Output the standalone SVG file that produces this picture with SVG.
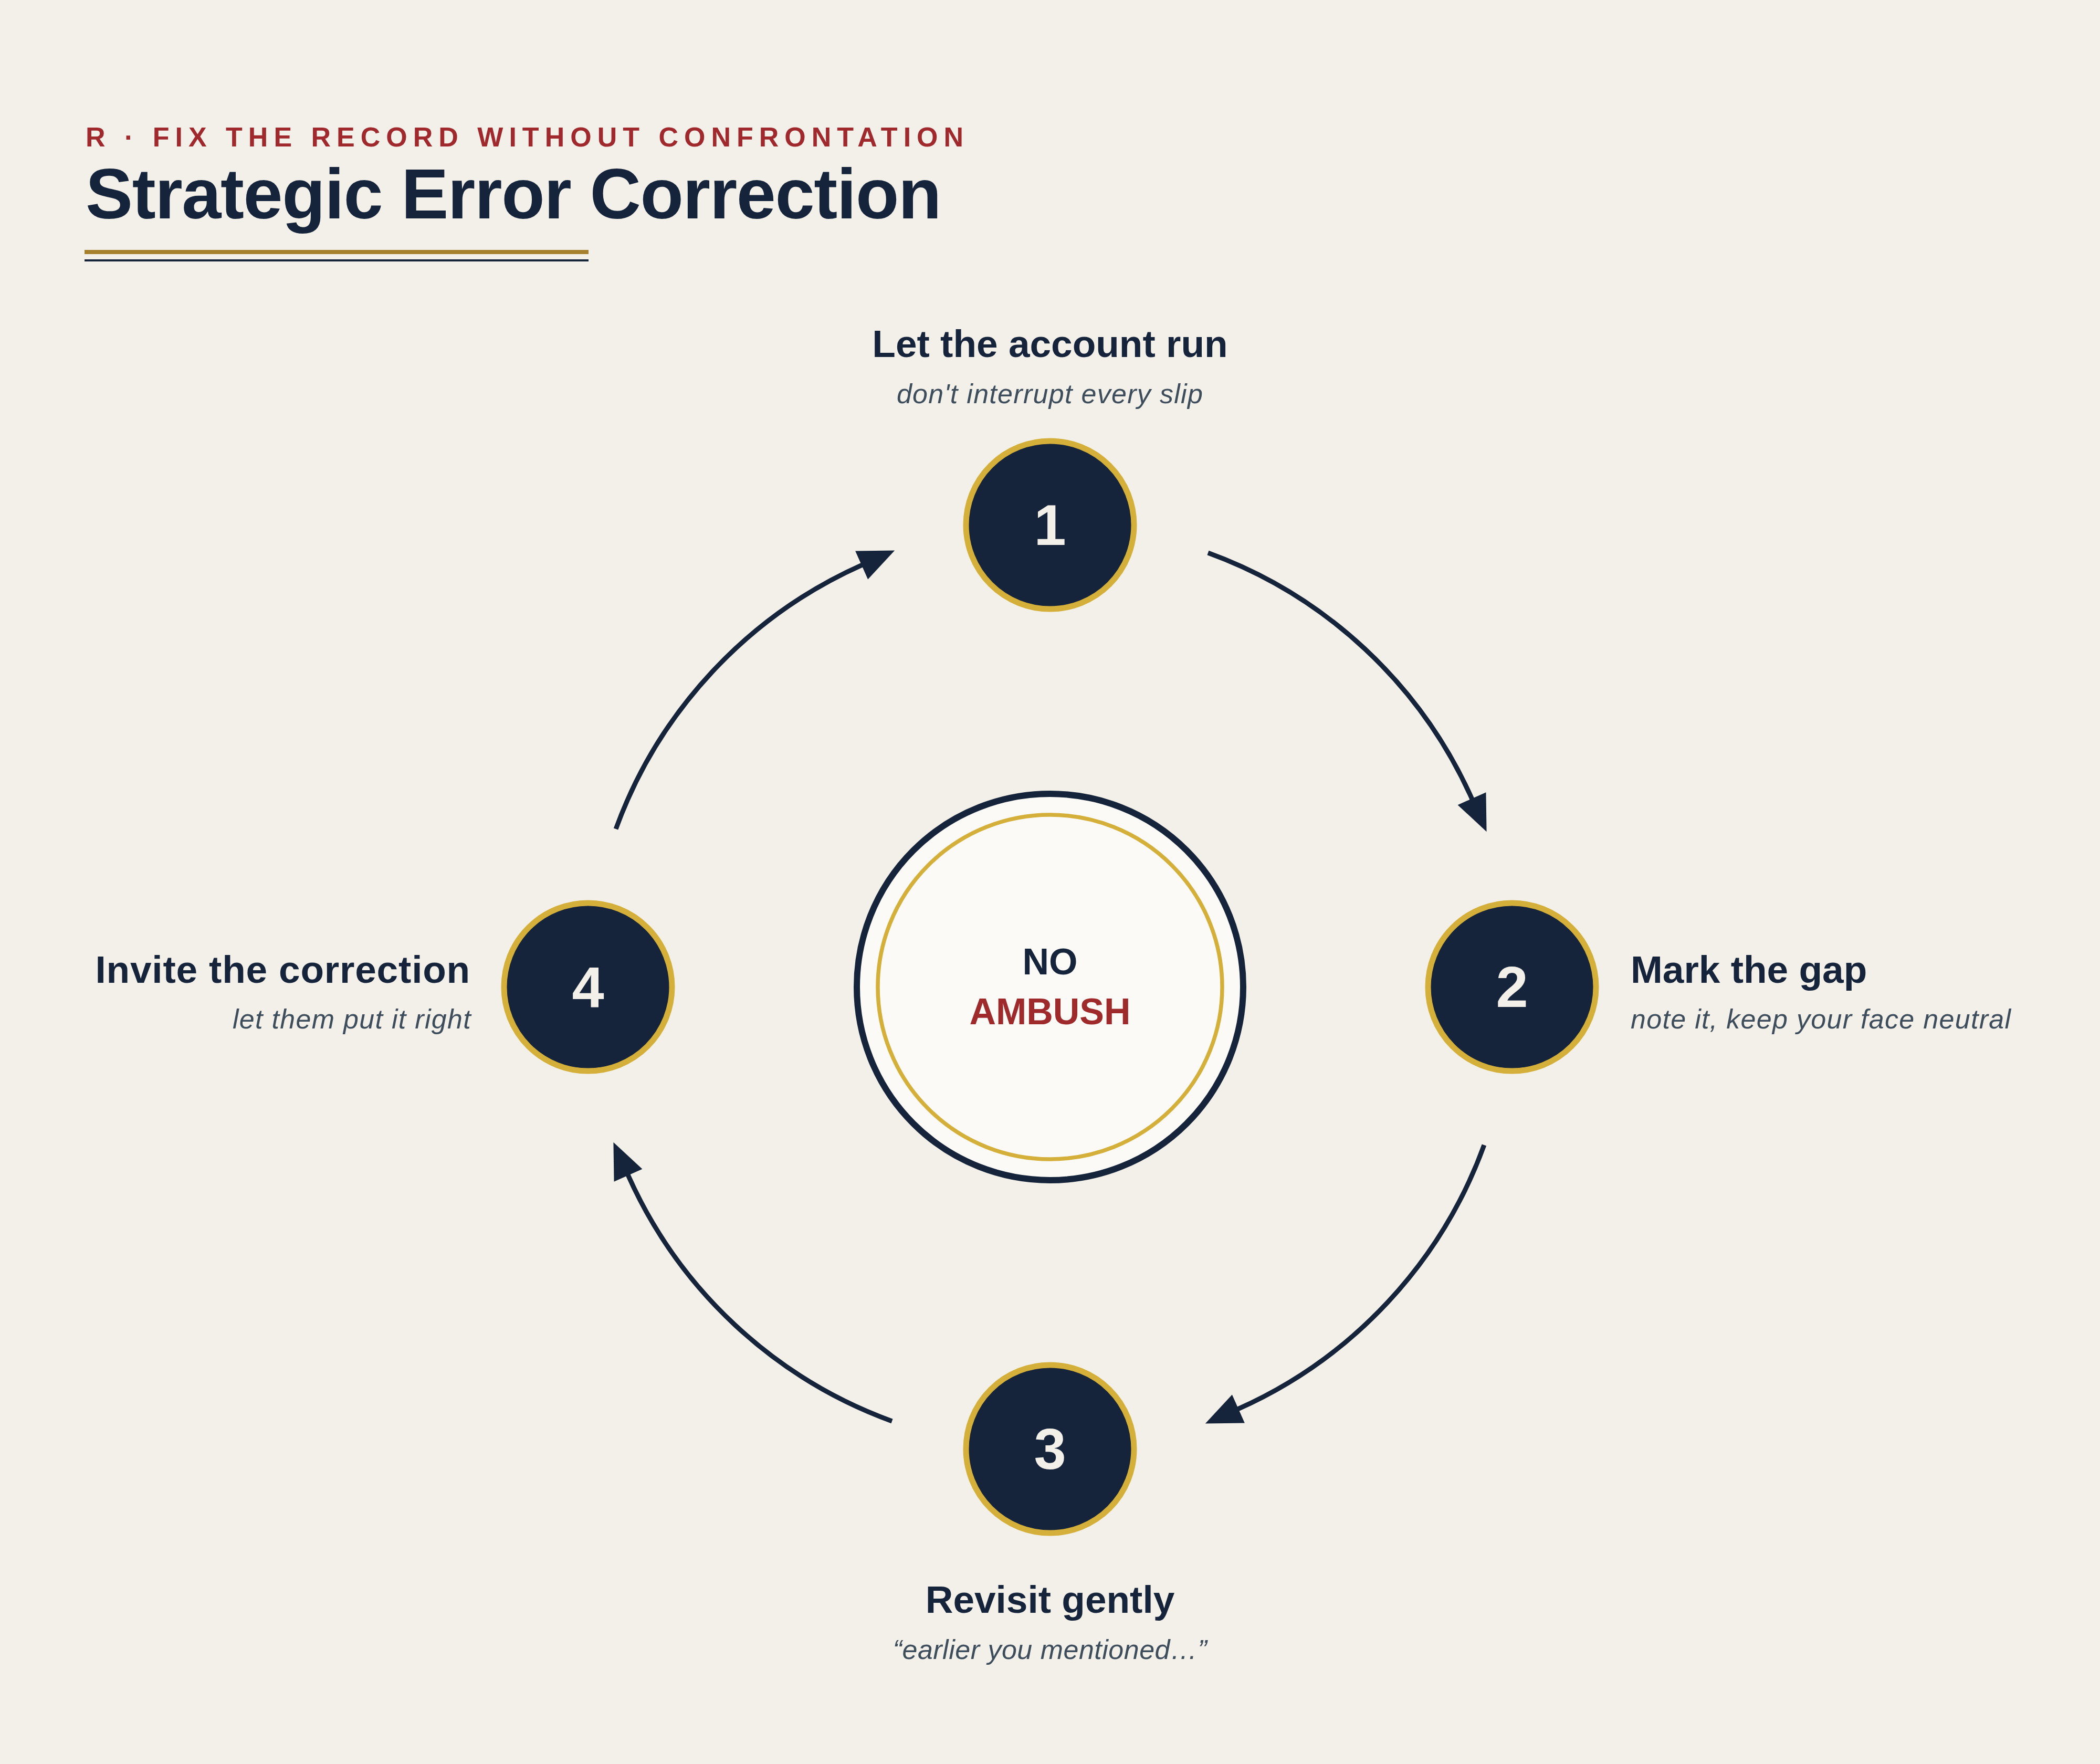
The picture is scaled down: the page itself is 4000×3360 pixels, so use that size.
<svg xmlns="http://www.w3.org/2000/svg" width="4000" height="3360" viewBox="0 0 4000 3360">
  <style>
    .kicker { font-family: "Liberation Sans", Arial, sans-serif; font-weight: 600; font-size: 52px; letter-spacing: 11px; fill: #A0292D; }
    .title { font-family: "Liberation Sans", Arial, sans-serif; font-weight: 700; font-size: 135px; letter-spacing: -1.4px; fill: #15243A; }
    .head { font-family: "Liberation Sans", Arial, sans-serif; font-weight: 700; font-size: 73px; fill: #15243A; }
    .sub { font-family: "Liberation Sans", Arial, sans-serif; font-style: italic; font-size: 52px; letter-spacing: 1.3px; fill: #3E4D5C; }
    .num { font-family: "Liberation Sans", Arial, sans-serif; font-weight: 700; font-size: 110px; fill: #F3F0E9; text-anchor: middle; }
    .disc { fill: #15243A; stroke: #D4AF3A; stroke-width: 11; }
    .conn { fill: none; stroke: #15243A; stroke-width: 9; marker-end: url(#ah); }
    .hub { font-family: "Liberation Sans", Arial, sans-serif; font-weight: 700; font-size: 70px; text-anchor: middle; }
  </style>
  <defs>
    <marker id="ah" markerUnits="userSpaceOnUse" markerWidth="72" markerHeight="62" refX="1" refY="29.5" orient="auto" overflow="visible">
      <path d="M0,0 L69,29.5 L0,59 z" fill="#15243A"/>
    </marker>
  </defs>

  <rect width="4000" height="3360" fill="#F3F0E9"/>

  <g id="header">
    <text class="kicker" x="163" y="279">R · FIX THE RECORD WITHOUT CONFRONTATION</text>
    <text class="title" x="163" y="416">Strategic Error Correction</text>
    <rect x="161" y="476" width="960" height="8" fill="#A67F2C"/>
    <rect x="161" y="494" width="960" height="4" fill="#15243A"/>
  </g>

  <g id="connectors">
    <path class="conn" d="M2300.98,1053.07 A880,880 0 0 1 2803.92,1522.07"/>
    <path class="conn" d="M2826.93,2180.98 A880,880 0 0 1 2357.93,2683.92"/>
    <path class="conn" d="M1699.02,2706.93 A880,880 0 0 1 1196.08,2237.93"/>
    <path class="conn" d="M1173.07,1579.02 A880,880 0 0 1 1642.07,1076.08"/>
  </g>

  <g id="hub">
    <circle cx="2000" cy="1880" r="368" fill="#FBFAF6" stroke="#15243A" stroke-width="12"/>
    <circle cx="2000" cy="1880" r="328" fill="#FBFAF6" stroke="#D4AF3A" stroke-width="7.5"/>
    <text class="hub" x="2000" y="1856" fill="#15243A">NO</text>
    <text class="hub" x="2000" y="1951" fill="#9E2A2C">AMBUSH</text>
  </g>

  <g id="node1">
    <circle class="disc" cx="2000" cy="1000" r="160"/>
    <text class="num" x="2000" y="1038">1</text>
    <text class="head" x="2000" y="680" text-anchor="middle">Let the account run</text>
    <text class="sub" x="2000" y="768" text-anchor="middle">don't interrupt every slip</text>
  </g>

  <g id="node2">
    <circle class="disc" cx="2880" cy="1880" r="160"/>
    <text class="num" x="2880" y="1918">2</text>
    <text class="head" x="3106" y="1872">Mark the gap</text>
    <text class="sub" x="3106" y="1959">note it, keep your face neutral</text>
  </g>

  <g id="node3">
    <circle class="disc" cx="2000" cy="2760" r="160"/>
    <text class="num" x="2000" y="2798">3</text>
    <text class="head" x="2000" y="3072" text-anchor="middle">Revisit gently</text>
    <text class="sub" x="2000" y="3160" text-anchor="middle" style="letter-spacing:0.5px">“earlier you mentioned…”</text>
  </g>

  <g id="node4">
    <circle class="disc" cx="1120" cy="1880" r="160"/>
    <text class="num" x="1120" y="1918">4</text>
    <text class="head" x="896" y="1872" text-anchor="end" style="letter-spacing:0.8px">Invite the correction</text>
    <text class="sub" x="898" y="1959" text-anchor="end">let them put it right</text>
  </g>
</svg>
